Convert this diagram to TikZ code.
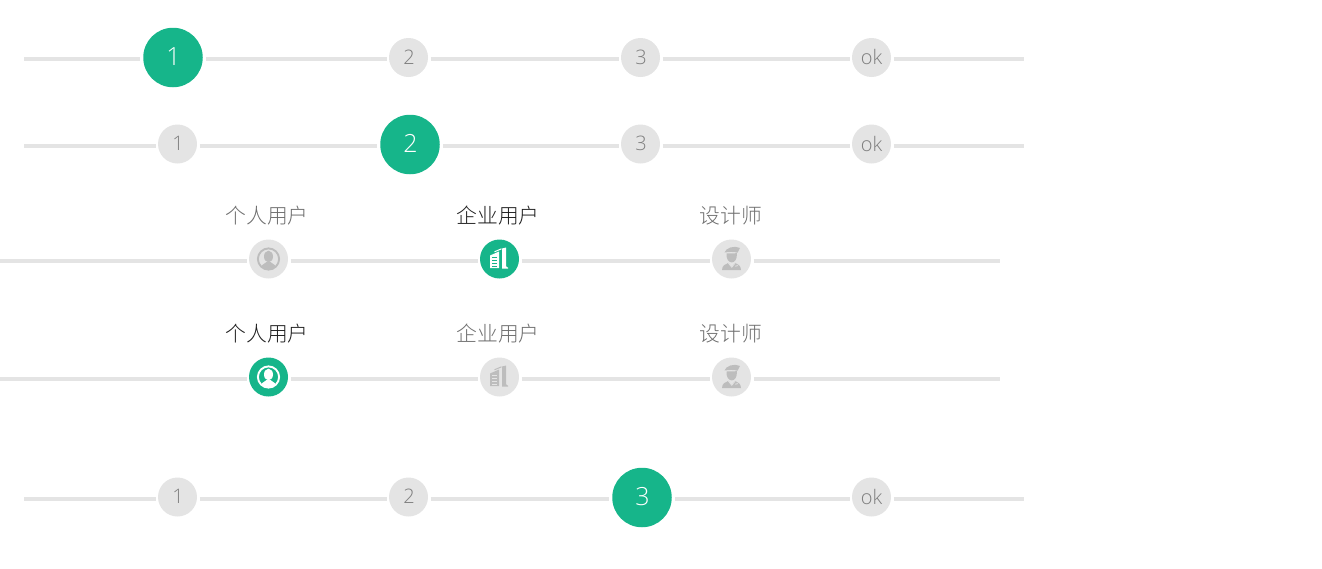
\documentclass[tikz,border=0pt]{standalone}
\usepackage{fontspec}
\setmainfont{Open Sans Light}
\newfontfamily\cjk{Noto Sans CJK SC Light}
\definecolor{grn}{HTML}{16B58A}
\definecolor{trk}{HTML}{E4E4E4}
\definecolor{numc}{HTML}{7E7E7E}
\definecolor{ico}{HTML}{BDBDBD}
\definecolor{lab}{HTML}{6E6E6E}
\definecolor{labon}{HTML}{1E1E1E}
\newcommand\stepnum[1]{\raisebox{1.2pt}{\hspace{1pt}#1}}
\newcommand\stepok{\raisebox{1.2pt}{ok}}
\tikzset{
 track/.style={draw=trk,line width=4pt},
 small/.style={circle,fill=trk,minimum size=39pt,inner sep=0pt,outer sep=2.5pt,text=numc,font=\fontsize{20}{20}\selectfont},
 big/.style={circle,fill=grn,minimum size=59.5pt,inner sep=0pt,outer sep=3pt,text=white,font=\fontsize{25}{25}\selectfont},
 on/.style={circle,fill=grn,minimum size=39pt,inner sep=0pt,outer sep=2.5pt},
 off/.style={circle,fill=trk,minimum size=39pt,inner sep=0pt,outer sep=2.5pt},
 lbl/.style={text=lab,font=\cjk\fontsize{20.8}{20.8}\selectfont,inner sep=0pt},
 lblon/.style={text=labon,font=\cjk\fontsize{20.8}{20.8}\selectfont,inner sep=0pt},
 pics/person/.style={code={
   \draw[#1,line width=1.9pt] (0,0) circle (10.6);
   \fill[#1] (0,-2.5) ellipse (4.5 and 5.8);
   \begin{scope}
   \clip (0,0) circle (10.6);
   \fill[#1] (-8.5,11) .. controls (-8.5,6) and (-4,5) .. (-2,3) -- (2,3) .. controls (4,5) and (8.5,6) .. (8.5,11) -- cycle;
   \end{scope}
 }},
 pics/building/.style 2 args={code={
   \fill[#1] (-9.5,-3.5) -- (-0.5,-7.5) -- (-0.5,9) -- (-9.5,9) -- cycle;
   \foreach \y in {-1.6,1.4,4.4,7.2} \draw[#2,line width=1pt] (-7.5,\y) -- (-2.5,\y);
   \draw[#1,line width=1pt] (-5,-7.2) -- (2,-10.2);
   \fill[#1] (2.5,-10.5) -- (6.5,-11.5) -- (6.5,6.5) .. controls (6.5,8) and (7.5,8.5) .. (8.5,8.5) -- (8.5,9.5) -- (2.5,9.5) -- cycle;
 }},
 pics/worker/.style 2 args={code={
   \fill[#1] (-7,-6.5) .. controls (-6,-11) and (3,-14) .. (8.5,-11) -- (6,-6.3) .. controls (2,-7.5) and (-3,-7) .. (-7,-6.5) -- cycle;
   \fill[#1] (-5,-5.5) -- (5.4,-5.8) .. controls (5.8,0.5) and (3,3.4) .. (0.3,3.4) .. controls (-2.6,3.4) and (-5.4,0.5) .. (-5,-5.5) -- cycle;
   \fill[#1] (-9.5,11) .. controls (-9.5,6.5) and (-6,5) .. (-3,3.8) -- (0.3,8) -- (3.5,3.8) .. controls (6,5) and (9.5,6.5) .. (9.5,11) -- cycle;
   \draw[#2,line width=0.7pt] (-3.2,4) -- (0.3,8.3) -- (3.7,4);
   \draw[#2,line width=0.8pt] (3.8,7.2) -- (6.5,6.6);
 }},
}
\begin{document}
\begin{tikzpicture}[x=1pt,y=-1pt]
\useasboundingbox (0,0) rectangle (1322,568);
% row 1
\coordinate (a0) at (24,59); \coordinate (a9) at (1024,59);
\node[big] (a1) at (173,57.5) {\stepnum{1}};
\node[small] (a2) at (408.5,57.5) {\stepnum{2}};
\node[small] (a3) at (640.5,57.5) {\stepnum{3}};
\node[small] (a4) at (871.5,57.5) {\stepok};
\draw[track] (a0) -- (a1.west |- a0);
\draw[track] (a1.east |- a0) -- (a2.west |- a0);
\draw[track] (a2.east |- a0) -- (a3.west |- a0);
\draw[track] (a3.east |- a0) -- (a4.west |- a0);
\draw[track] (a4.east |- a0) -- (a9);
% row 2
\coordinate (b0) at (24,146); \coordinate (b9) at (1024,146);
\node[small] (b1) at (177.5,144) {\stepnum{1}};
\node[big] (b2) at (410,144.5) {\stepnum{2}};
\node[small] (b3) at (640.5,144) {\stepnum{3}};
\node[small] (b4) at (871.5,144) {\stepok};
\draw[track] (b0) -- (b1.west |- b0);
\draw[track] (b1.east |- b0) -- (b2.west |- b0);
\draw[track] (b2.east |- b0) -- (b3.west |- b0);
\draw[track] (b3.east |- b0) -- (b4.west |- b0);
\draw[track] (b4.east |- b0) -- (b9);
% row 3
\coordinate (c0) at (0,261); \coordinate (c9) at (1000,261);
\node[off] (c1) at (268.5,259) {};
\node[on] (c2) at (499.5,259) {};
\node[off] (c3) at (731.5,259) {};
\pic at (c1.center) {person=ico};
\pic at (c2.center) {building={white}{grn}};
\pic at (c3.center) {worker={ico}{trk}};
\node[lbl] (cl1) at (267,215.5) {个人用户};
\node[lblon] (cl2) at (498,215.5) {企业用户};
\node[lbl] (cl3) at (731,215.5) {设计师};
\draw[track] (c0) -- (c1.west |- c0);
\draw[track] (c1.east |- c0) -- (c2.west |- c0);
\draw[track] (c2.east |- c0) -- (c3.west |- c0);
\draw[track] (c3.east |- c0) -- (c9);
% row 4
\coordinate (d0) at (0,379); \coordinate (d9) at (1000,379);
\node[on] (d1) at (268.5,377) {};
\node[off] (d2) at (499.5,377) {};
\node[off] (d3) at (731.5,377) {};
\pic at (d1.center) {person=white};
\pic at (d2.center) {building={ico}{trk}};
\pic at (d3.center) {worker={ico}{trk}};
\node[lblon] (dl1) at (267,333.5) {个人用户};
\node[lbl] (dl2) at (498,333.5) {企业用户};
\node[lbl] (dl3) at (731,333.5) {设计师};
\draw[track] (d0) -- (d1.west |- d0);
\draw[track] (d1.east |- d0) -- (d2.west |- d0);
\draw[track] (d2.east |- d0) -- (d3.west |- d0);
\draw[track] (d3.east |- d0) -- (d9);
% row 5
\coordinate (e0) at (24,499); \coordinate (e9) at (1024,499);
\node[small] (e1) at (177.5,497) {\stepnum{1}};
\node[small] (e2) at (408.5,497) {\stepnum{2}};
\node[big] (e3) at (642,497.5) {\stepnum{3}};
\node[small] (e4) at (871.5,497) {\stepok};
\draw[track] (e0) -- (e1.west |- e0);
\draw[track] (e1.east |- e0) -- (e2.west |- e0);
\draw[track] (e2.east |- e0) -- (e3.west |- e0);
\draw[track] (e3.east |- e0) -- (e4.west |- e0);
\draw[track] (e4.east |- e0) -- (e9);
\end{tikzpicture}
\end{document}
